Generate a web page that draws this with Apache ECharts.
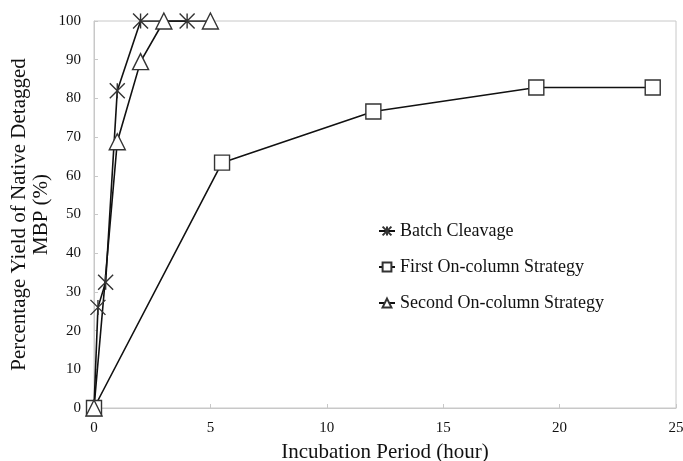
<!DOCTYPE html>
<html><head><meta charset="utf-8">
<script src="https://cdn.jsdelivr.net/npm/echarts@6/dist/echarts.min.js"></script>
<style>html,body{margin:0;padding:0;background:#fff}#c{width:683px;height:461px}</style>
</head><body><div id="c"></div>
<script>
const batchX = [0, 0.17, 0.5, 1, 2, 4];
const batchY = [0, 26, 32.5, 82, 100, 100];
const firstX = [0, 5.5, 12, 19, 24];
const firstY = [0, 63.4, 76.6, 82.8, 82.8];
const secondX = [0, 1, 2, 3, 5];
const secondY = [0, 68.8, 89.5, 100, 100];
const seriesNames = ['Batch Cleavage', 'First On-column Strategy', 'Second On-column Strategy'];
const xTicks = [0, 5, 10, 15, 20, 25];
const yTicks = [0, 10, 20, 30, 40, 50, 60, 70, 80, 90, 100];

const pair = (xs, ys) => xs.map((x, i) => [x, ys[i]]);
const serif = '"Liberation Serif", "DejaVu Serif", serif';
const starPath = 'path://M0,0L10,10M10,0L0,10M5,0L5,10';

const chart = echarts.init(document.getElementById('c'), null, {renderer: 'canvas'});
const mk = (name, data, symbol, size) => ({
  name, type: 'line', data, symbol, symbolSize: size, showAllSymbol: true,
  lineStyle: {color: '#111', width: 1.6},
  itemStyle: {color: symbol === starPath ? 'none' : '#fff', borderColor: '#333', borderWidth: 1.4},
  emphasis: {disabled: true}, animation: false, z: 3
});
chart.setOption({
  animation: false,
  grid: {left: 94, right: 7, top: 21, bottom: 53, containLabel: false, outerBoundsMode: 'none',
    show: true, borderColor: '#c8c8c8', borderWidth: 1},
  legend: {
    orient: 'vertical', left: 373, top: 217, itemGap: 18, itemWidth: 16, itemHeight: 11,
    textStyle: {fontFamily: serif, fontSize: 18, color: '#111'},
    data: seriesNames
  },
  xAxis: {
    type: 'value', min: 0, max: 25, interval: 5,
    axisLine: {lineStyle: {color: '#c8c8c8'}},
    axisTick: {inside: true, length: 4, lineStyle: {color: '#c8c8c8'}},
    splitLine: {show: false},
    axisLabel: {fontFamily: serif, fontSize: 15, color: '#111', margin: 13,
      formatter: v => xTicks.includes(v) ? String(v) : ''},
    name: 'Incubation Period (hour)', nameLocation: 'middle', nameGap: 34, nameMoveOverlap: false,
    nameTextStyle: {fontFamily: serif, fontSize: 21, color: '#111'}
  },
  yAxis: {
    type: 'value', min: 0, max: 100, interval: 10,
    axisLine: {show: true, lineStyle: {color: '#c8c8c8'}},
    axisTick: {show: true, inside: true, length: 4, lineStyle: {color: '#c8c8c8'}},
    splitLine: {show: false},
    axisLabel: {fontFamily: serif, fontSize: 15, color: '#111', margin: 13,
      formatter: v => yTicks.includes(v) ? String(v) : ''},
    name: 'Percentage Yield of Native Detagged\nMBP (%)', nameLocation: 'middle', nameGap: 42, nameMoveOverlap: false,
    nameTextStyle: {fontFamily: serif, fontSize: 21, color: '#111', lineHeight: 22}
  },
  series: [
    mk(seriesNames[0], pair(batchX, batchY), starPath, 15),
    mk(seriesNames[1], pair(firstX, firstY), 'rect', 15),
    mk(seriesNames[2], pair(secondX, secondY), 'triangle', 16)
  ]
});
</script></body></html>
